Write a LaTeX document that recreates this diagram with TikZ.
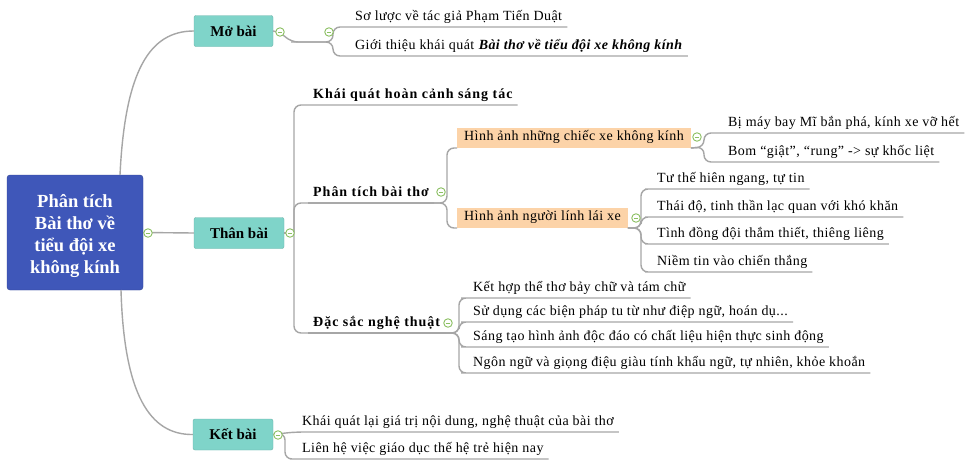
\documentclass[tikz,border=0pt]{standalone}
\usepackage{fontspec}
\setmainfont{Liberation Serif}
\newfontfamily\leaffont[LetterSpace=3.2]{Liberation Serif}
\newfontfamily\midfont[LetterSpace=7]{Liberation Serif}
\definecolor{rootblue}{HTML}{3F57B9}
\definecolor{boxteal}{HTML}{7FD4C9}
\definecolor{peach}{HTML}{FCD3A8}
\definecolor{linegray}{HTML}{A6A6A6}
\definecolor{mk}{HTML}{8CC063}
\begin{document}
\begin{tikzpicture}[x=1pt,y=-1pt,
  conn/.style={draw=linegray, line width=1.4pt, rounded corners=7pt},
  leaf/.style={anchor=south west, inner xsep=5pt, inner ysep=2.5pt, text height=9.5pt, text depth=3.5pt, font=\leaffont\fontsize{14}{16}\selectfont},
  mid/.style={leaf, font=\midfont\bfseries\fontsize{14}{16}\selectfont},
  sect/.style={rectangle, fill=boxteal, draw=boxteal!85!black, line width=0.4pt, rounded corners=2pt, font=\bfseries\fontsize{15}{17}\selectfont, minimum height=31pt, inner sep=0pt},
  peachbox/.style={anchor=south west, fill=peach, inner xsep=7pt, inner ysep=0pt, minimum height=20pt, text height=9.5pt, text depth=3.5pt, font=\leaffont\fontsize{14}{16}\selectfont},
  marker/.style={circle, draw=mk, fill=white, line width=0.9pt, minimum size=8.5pt, inner sep=0pt,
    path picture={\draw[mk, line width=0.9pt] ([xshift=-2.2pt]path picture bounding box.center) -- ([xshift=2.2pt]path picture bounding box.center);}}
]
\useasboundingbox (0,0) rectangle (975,469);
\fill[white] (0,0) rectangle (975,469);

% root
\node[fill=rootblue, draw=rootblue!80!black, line width=0.4pt, rounded corners=3pt, minimum width=136pt, minimum height=115pt, inner sep=0pt] (root) at (75,232.5) {};
\node[text=white, font=\bfseries\fontsize{18.5}{22}\selectfont, align=center, inner sep=0pt] (roottext) at (75,236) {Phân tích\\Bài thơ về\\tiểu đội xe\\không kính};

% sections
\node[sect, minimum width=79pt] (mo) at (233.5,31) {Mở bài};
\node[sect, minimum width=90pt] (tb) at (239,233) {Thân bài};
\node[sect, minimum width=80pt] (kb) at (233,434.5) {Kết bài};

\coordinate (rt) at (120,175);
\coordinate (rb) at (121,290);
\draw[conn] (rt) .. controls (125,70) and (150,31) .. (mo.west);
\draw[conn] (rb) .. controls (124,395) and (150,435) .. (kb.west);

% Mở bài children
\node[leaf] (s1) at (350,27) {Sơ lược về tác giả Phạm Tiến Duật};
\node[leaf] (s2) at (350,56) {Giới thiệu khái quát \textbf{\textit{Bài thơ về tiểu đội xe không kính}}};
\coordinate (mo1) at (291,42);
\coordinate (mj) at (333,42);
\draw[conn] (mo.east) -- (280,32) -- (mo1) -- (mj) |- (s1.south west) -- (s1.south east);
\draw[conn] (mo1) -- (mj) |- (s2.south west) -- (s2.south east);

% Thân bài children
\node[mid] (kq) at (308,105) {Khái quát hoàn cảnh sáng tác};
\node[mid] (pt) at (308,203) {Phân tích bài thơ};
\node[mid] (dn) at (308,333) {Đặc sắc nghệ thuật};
\coordinate (tj) at (294,233);
\draw[conn] (root.east) -- (tb.west);
\draw[conn] (tb.east) -- (tj);
\draw[conn] (tj) |- (kq.south west) -- (kq.south east);
\draw[conn] (tj) |- (pt.south west) -- (pt.south east);
\draw[conn] (tj) |- (dn.south west) -- (dn.south east);

% Phân tích children
\node[peachbox] (xk) at (457,148) {Hình ảnh những chiếc xe không kính};
\node[peachbox] (nl) at (457,228) {Hình ảnh người lính lái xe};
\coordinate (pj) at (447,203);
\draw[conn] (pt.south west) -- (pj) |- (xk.south west);
\draw[conn] (pt.south west) -- (pj) |- (nl.south west);

% xe không kính children
\node[leaf] (bm1) at (723,133) {Bị máy bay Mĩ bắn phá, kính xe vỡ hết};
\node[leaf] (bm2) at (723,162) {Bom “giật”, “rung” -> sự khốc liệt};
\coordinate (xj) at (704,147);
\draw[conn] (xk.south east) -- (xj) |- (bm1.south west) -- (bm1.south east);
\draw[conn] (xk.south east) -- (xj) |- (bm2.south west) -- (bm2.south east);

% người lính children
\node[leaf] (n1) at (652,189) {Tư thế hiên ngang, tự tin};
\node[leaf] (n2) at (652,217) {Thái độ, tinh thần lạc quan với khó khăn};
\node[leaf] (n3) at (652,244) {Tình đồng đội thắm thiết, thiêng liêng};
\node[leaf] (n4) at (652,272) {Niềm tin vào chiến thắng};
\coordinate (nj) at (641,228);
\foreach \n in {n1,n2,n3,n4}
  \draw[conn] (nl.south east) -- (nj) |- (\n.south west) -- (\n.south east);

% Đặc sắc children
\node[leaf] (d1) at (468,298) {Kết hợp thể thơ bảy chữ và tám chữ};
\node[leaf] (d2) at (468,322) {Sử dụng các biện pháp tu từ như điệp ngữ, hoán dụ...};
\node[leaf] (d3) at (468,347) {Sáng tạo hình ảnh độc đáo có chất liệu hiện thực sinh động};
\node[leaf] (d4) at (468,373) {Ngôn ngữ và giọng điệu giàu tính khẩu ngữ, tự nhiên, khỏe khoắn};
\coordinate (dj) at (459,333);
\foreach \n in {d1,d2,d3,d4}
  \draw[conn] (dn.south west) -- (dj) |- (\n.south west) -- (\n.south east);

% Kết bài children
\node[leaf] (k1) at (297,432) {Khái quát lại giá trị nội dung, nghệ thuật của bài thơ};
\node[leaf] (k2) at (297,459) {Liên hệ việc giáo dục thế hệ trẻ hiện nay};
\coordinate (kj) at (285,433);
\draw[conn] (kb.east) -- (kj) -- (k1.south west) -- (k1.south east);
\draw[conn] (kb.east) -- (kj) |- (k2.south west) -- (k2.south east);

% markers
\node[marker] (rootc) at (148,233) {};
\node[marker] (moc) at (280,32) {};
\node[marker] (mo2c) at (329,32) {};
\node[marker] (tbc) at (290,233) {};
\node[marker] (ptc) at (441,192) {};
\node[marker] (dnc) at (448,323) {};
\node[marker] (xkc) at (697,137) {};
\node[marker] (nlc) at (636,218) {};
\node[marker] (kbc) at (278,435) {};
\end{tikzpicture}
\end{document}
